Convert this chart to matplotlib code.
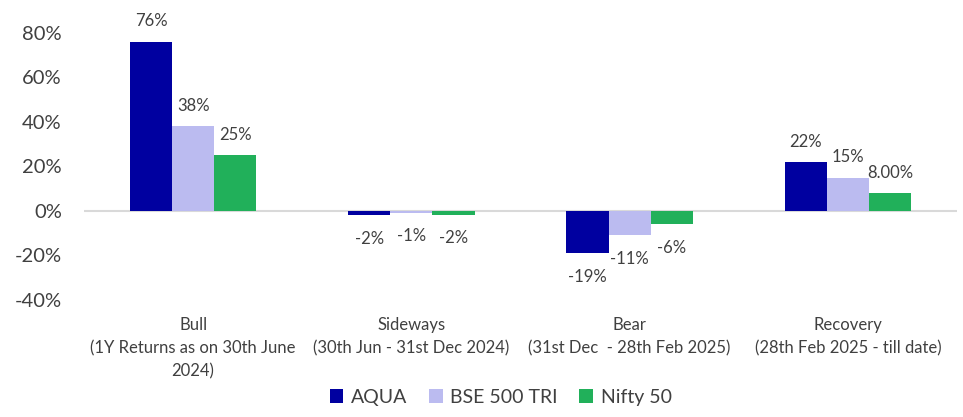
import matplotlib
matplotlib.use("Agg")
import matplotlib.pyplot as plt
import numpy as np
from matplotlib.ticker import FuncFormatter

plt.rcParams['font.family'] = ['Lato', 'DejaVu Sans']

categories = ["Bull\n(1Y Returns as on 30th June\n2024)",
              "Sideways\n(30th Jun - 31st Dec 2024)",
              "Bear\n(31st Dec  - 28th Feb 2025)",
              "Recovery\n(28th Feb 2025 - till date)"]
series_names = ["AQUA", "BSE 500 TRI", "Nifty 50"]
aqua = [76, -2, -19, 22]
bse = [38, -1, -11, 15]
nifty = [25, -1.8, -6, 8]
aqua_labels = ["76%", "-2%", "-19%", "22%"]
bse_labels = ["38%", "-1%", "-11%", "15%"]
nifty_labels = ["25%", "-2%", "-6%", "8.00%"]
yticks = [-40, -20, 0, 20, 40, 60, 80]

colors = ["#0000A0", "#BBBBF0", "#21B05A"]
text_color = "#404040"

fig = plt.figure(figsize=(9.63, 4.17), dpi=100)
ax = fig.add_axes([0.0872, 0.2806, 0.9066, 0.6403])

x = np.arange(len(categories))
w = 0.193
all_vals = [aqua, bse, nifty]
all_labels = [aqua_labels, bse_labels, nifty_labels]
for i, (vals, labs) in enumerate(zip(all_vals, all_labels)):
    pos = x + (i - 1) * w
    bars = ax.bar(pos, vals, width=w, color=colors[i], label=series_names[i], zorder=3)
    for b, v, lab in zip(bars, vals, labs):
        cx = b.get_x() + b.get_width() / 2
        if v >= 0:
            ax.annotate(lab, (cx, v), xytext=(0, 9), textcoords="offset points",
                        ha="center", va="bottom", fontsize=12, color=text_color)
        else:
            ax.annotate(lab, (cx, v), xytext=(0, -11), textcoords="offset points",
                        ha="center", va="top", fontsize=12, color=text_color)

ax.set_xlim(-0.5, 3.5)
ax.set_ylim(-40, 80)
ax.set_yticks(yticks)
ax.yaxis.set_major_formatter(FuncFormatter(lambda v, p: f"{v:.0f}%"))
ax.axhline(0, color="#D9D9D9", lw=1.5, zorder=2)
for s in ax.spines.values():
    s.set_visible(False)
ax.tick_params(axis="y", length=0, pad=16, labelsize=14.5, labelcolor=text_color)
ax.set_xticks(x)
ax.set_xticklabels(categories, fontsize=12, color=text_color, linespacing=1.55)
ax.tick_params(axis="x", length=0, pad=12)

leg = fig.legend(loc="lower center", bbox_to_anchor=(0.52, -0.015), ncol=3, frameon=False,
                 fontsize=14, handlelength=0.7, handleheight=0.7, handletextpad=0.4,
                 columnspacing=1.1)
for t in leg.get_texts():
    t.set_color(text_color)

fig.savefig("out.png", dpi=100)
